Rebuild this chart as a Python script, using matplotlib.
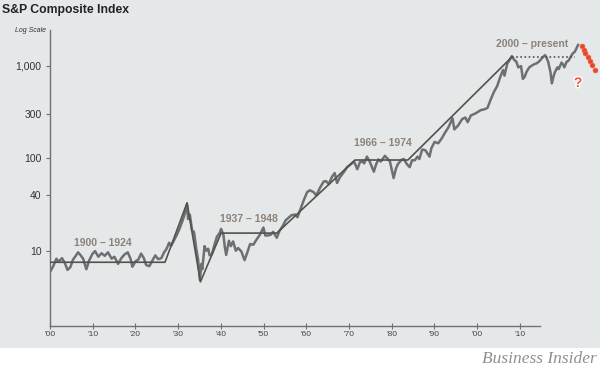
import numpy as np
import matplotlib
matplotlib.use("Agg")
import matplotlib.pyplot as plt
import matplotlib.patheffects as pe
from matplotlib.patches import Rectangle

plt.rcParams["font.family"] = ["Liberation Sans", "DejaVu Sans"]

# S&P composite (year, index level)
years = [
    1900.0, 1900.7, 1901.4, 1901.9, 1902.6, 1903.2, 1903.8, 1904.4, 1905.0, 1905.6,
    1906.1, 1906.6, 1907.2, 1907.9, 1908.5, 1909.2, 1909.8, 1910.5, 1911.2, 1911.9,
    1912.6, 1913.4, 1914.0, 1914.8, 1915.5, 1916.2, 1916.9, 1917.5, 1917.9, 1918.6,
    1919.2, 1919.8, 1920.4, 1920.9, 1921.6, 1922.3, 1922.9, 1923.5, 1924.2, 1924.8,
    1925.3, 1925.9, 1926.3, 1926.9, 1927.5, 1928.1, 1928.8, 1929.3, 1929.8, 1930.0,
    1930.4, 1930.9, 1931.3, 1931.8, 1932.2, 1932.6, 1932.9, 1933.1, 1933.6, 1934.0,
    1934.4, 1934.7, 1935.2, 1935.8, 1936.3, 1936.9, 1937.2, 1937.7, 1938.0, 1938.3,
    1938.9, 1939.3, 1939.8, 1940.4, 1940.9, 1941.6, 1942.3, 1942.9, 1943.5, 1944.2,
    1944.9, 1945.6, 1946.4, 1946.8, 1947.4, 1948.0, 1948.5, 1949.3, 1949.9, 1950.6,
    1951.2, 1951.8, 1952.5, 1953.3, 1953.8, 1954.5, 1955.2, 1955.9, 1956.5, 1957.3,
    1957.9, 1958.7, 1959.5, 1960.0, 1960.6, 1961.3, 1961.9, 1962.4, 1963.0, 1963.8,
    1964.6, 1965.4, 1966.1, 1966.8, 1967.4, 1967.9, 1968.3, 1968.9, 1969.5, 1970.4,
    1970.9, 1971.4, 1971.9, 1972.8, 1973.3, 1973.9, 1974.7, 1975.2, 1975.6, 1976.4,
    1976.9, 1977.6, 1978.2, 1978.7, 1979.3, 1979.9, 1980.3, 1980.9, 1981.6, 1982.5,
    1982.9, 1983.6, 1984.4, 1985.2, 1985.9, 1986.6, 1987.5, 1987.9, 1988.7, 1989.6,
    1990.3, 1990.8, 1991.5, 1992.5, 1993.6, 1994.6, 1995.1, 1995.8, 1996.5, 1997.2,
    1997.9, 1998.5, 1998.8, 1999.4, 1999.9, 2000.4, 2000.9, 2001.4, 2001.8, 2002.4,
    2002.8, 2003.2, 2003.6, 2004.2, 2004.7, 2005.3, 2005.8, 2006.4, 2006.9, 2007.6,
    2007.9, 2008.3, 2008.8, 2009.1, 2009.5, 2009.8, 2010.3, 2010.6, 2011.2, 2011.6,
    2011.8, 2012.3, 2012.7, 2013.0, 2013.6, 2014.1, 2014.8,
]
index_level = [
    5.9, 6.8, 8.2, 7.6, 8.3, 7.4, 6.2, 6.6, 8.0, 8.8,
    9.6, 9.0, 8.2, 6.3, 7.8, 9.2, 9.9, 8.6, 9.4, 8.8,
    9.6, 8.2, 8.6, 7.2, 8.3, 9.1, 9.6, 8.2, 6.7, 7.7,
    8.0, 9.3, 8.3, 7.0, 6.8, 7.9, 8.9, 8.1, 8.3, 9.6,
    10.4, 12.2, 11.2, 12.8, 14.6, 17.0, 21.0, 25.0, 31.5, 22.0,
    24.5, 16.5, 16.0, 10.5, 8.0, 4.8, 7.2, 6.3, 11.2, 10.0,
    10.5, 8.9, 9.2, 11.8, 14.2, 15.6, 17.2, 14.8, 11.0, 9.0,
    12.8, 11.2, 12.6, 10.0, 10.7, 9.8, 7.9, 9.6, 11.8, 11.6,
    13.2, 14.8, 17.8, 14.6, 14.6, 14.9, 16.0, 13.8, 16.4, 18.5,
    21.2, 22.6, 24.2, 24.6, 23.0, 28.5, 35.5, 43.0, 45.0, 43.0,
    39.5, 48.0, 56.0, 56.5, 52.5, 63.0, 69.0, 54.0, 62.0, 70.0,
    80.0, 86.0, 92.0, 76.0, 91.0, 92.0, 88.0, 104.0, 92.0, 71.5,
    86.0, 97.0, 92.0, 106.0, 100.0, 92.0, 61.0, 77.0, 86.0, 96.0,
    98.0, 86.0, 80.0, 95.0, 95.0, 104.0, 98.0, 124.0, 122.0, 104.0,
    128.0, 150.0, 145.0, 165.0, 190.0, 215.0, 270.0, 205.0, 225.0, 265.0,
    275.0, 245.0, 290.0, 305.0, 330.0, 340.0, 350.0, 430.0, 520.0, 600.0,
    760.0, 900.0, 780.0, 1050.0, 1150.0, 1270.0, 1160.0, 1100.0, 960.0, 990.0,
    720.0, 760.0, 860.0, 960.0, 1000.0, 1040.0, 1060.0, 1120.0, 1200.0, 1300.0,
    1240.0, 1100.0, 850.0, 645.0, 780.0, 860.0, 960.0, 920.0, 1080.0, 1020.0,
    960.0, 1100.0, 1130.0, 1200.0, 1350.0, 1420.0, 1675.0,
]

# secular trend overlay (vertices)
trend_years = [1900.0, 1925.0, 1929.8, 1932.7, 1937.2, 1949.3, 1966.3, 1977.8, 2000.4]
trend_level = [7.5, 7.5, 33.0, 4.6, 15.5, 15.5, 95.6, 95.6, 1240.0]
flat_2000_years = [2000.4, 2014.1]
flat_2000_level = [1240.0, 1240.0]

# "what next" red dots
future_years = [2015.6, 2016.0, 2016.4, 2016.9, 2017.4, 2017.9, 2018.4]
future_level = [1633, 1479, 1362, 1233, 1133, 1018, 899]

period_labels = ["1900 \u2013 1924", "1937 \u2013 1948", "1966 \u2013 1974", "2000 \u2013 present"]
period_x = [1911.5, 1943.3, 1972.3, 2004.9]
period_y = [12.1, 21.8, 145.0, 1717.0]

y_ticks = [10, 40, 100, 300, 1000]
y_tick_labels = ["10", "40", "100", "300", "1,000"]
x_tick_labels = ["'00", "'10", "'20", "'30", "'40", "'50", "'60", "'70", "'80", "'90", "'00", "'10"]

BG = "#e5e8e9"
LINE = "#6d7073"
TREND = "#56504a"
LABEL = "#8b8178"
RED = "#e8452c"

fig = plt.figure(figsize=(6.0, 3.76), dpi=100)
fig.patch.set_facecolor("white")
fig.add_artist(Rectangle((0, 28 / 376), 1, 1 - 28 / 376, transform=fig.transFigure,
                         facecolor=BG, edgecolor="none", zorder=0))

ax = fig.add_axes([50 / 600, 50.3 / 376, 550 / 600, 295.7 / 376])
ax.set_facecolor("none")
ax.set_yscale("log")
ax.set_xlim(1900, 1900 + 550 / 4.6)
ax.set_ylim(10 ** (3 - 260 / 92.5), 10 ** (3 + 35.7 / 92.5))

ax.plot(years, index_level, color=LINE, lw=1.8, solid_joinstyle="round", zorder=2)
ax.plot(trend_years, trend_level, color=TREND, lw=1.2, zorder=3)
ax.plot(flat_2000_years, flat_2000_level, color=TREND, lw=1.2, ls=(0, (1, 1.5)), zorder=3)
ax.plot(future_years, future_level, ls="none", marker="o", ms=3.6, color=RED,
        mec="#f06a50", mew=0.4, zorder=4, clip_on=False)
ax.text(2014.8, 650, "?", color="#ea5a3c", fontsize=10, fontweight="bold", ha="center",
        va="center", zorder=4,
        path_effects=[pe.withStroke(linewidth=2, foreground="white")])

for lab, xx, yy in zip(period_labels, period_x, period_y):
    ax.text(xx, yy, lab, color=LABEL, fontsize=7.5, fontweight="bold",
            ha="center", va="center", zorder=5)

# axes styling
for side in ["top", "right"]:
    ax.spines[side].set_visible(False)
for side in ["left", "bottom"]:
    ax.spines[side].set_color("#707070")
    ax.spines[side].set_linewidth(1.0)
ax.spines["bottom"].set_bounds(1900, 1900 + 490 / 4.6)

ax.set_yticks(y_ticks)
ax.set_yticklabels(y_tick_labels)
ax.yaxis.set_minor_locator(matplotlib.ticker.NullLocator())
ax.tick_params(axis="y", length=3, width=0.8, color="#707070", labelsize=7.5,
               labelcolor="#333333", pad=3)

x_ticks = [1900 + k * 42.7 / 4.6 for k in range(len(x_tick_labels))]
ax.set_xticks(x_ticks)
ax.set_xticklabels(x_tick_labels)
ax.tick_params(axis="x", direction="inout", length=4, width=0.8, color="#707070",
               labelsize=6, labelcolor="#444444", pad=2)

fig.text(2 / 600, 1 - 9.5 / 376, "S&P Composite Index", fontsize=8.8, fontweight="bold",
         color="#222222", va="center", ha="left")
fig.text(15 / 600, 1 - 31 / 376, "Log Scale", fontsize=5, style="italic",
         color="#333333", va="center", ha="left")
fig.text(597 / 600, 1 - 359 / 376, "Business Insider", fontsize=12.5, style="italic",
         family="Liberation Serif", color="#8f8f8f", va="center", ha="right")

fig.savefig("out.png", dpi=100)
